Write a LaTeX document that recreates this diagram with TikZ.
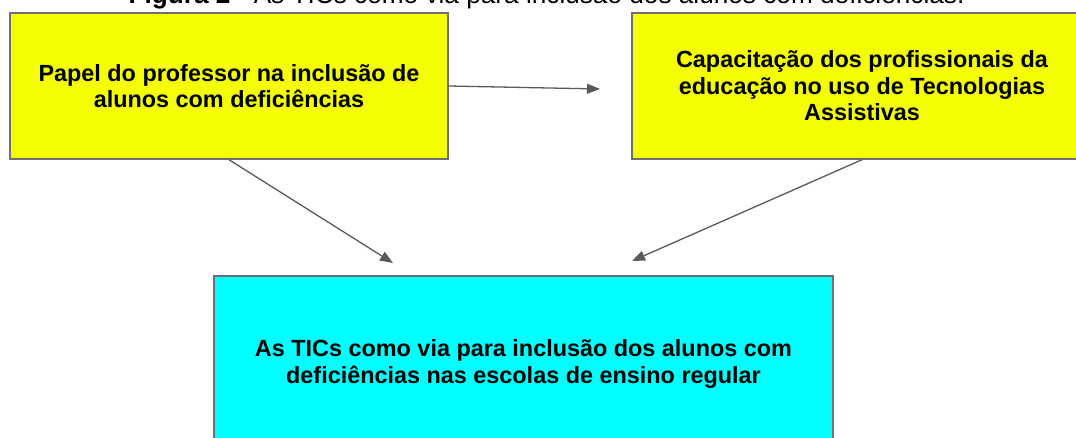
\documentclass[tikz,border=0pt]{standalone}
\usepackage{fontspec}
\setmainfont{Liberation Sans}
\usetikzlibrary{arrows.meta}
\definecolor{boxyellow}{HTML}{F4FF00}
\definecolor{boxcyan}{HTML}{00FFFF}
\definecolor{boxline}{HTML}{707070}
\definecolor{arrline}{HTML}{5A5A5A}
\tikzset{
  box/.style={draw=boxline, line width=1.4pt, inner sep=0pt, align=center,
    font=\bfseries\fontsize{23.4}{26.5}\selectfont},
  yellowbox/.style={box, fill=boxyellow},
  cyanbox/.style={box, fill=boxcyan},
  arr/.style={draw=arrline, line width=1.3pt,
    -{Triangle[length=13pt,width=10pt]}},
}
\begin{document}
\begin{tikzpicture}[x=1pt,y=-1pt]
\useasboundingbox (0,0) rectangle (1076,437);
\clip (0,0) rectangle (1076,437);
\node[anchor=base, font=\fontsize{26.2}{30}\selectfont] (title) at (546.5,3)
  {\textbf{Figura 2} - As TICs como via para inclusão dos alunos com deficiências.};
\node[yellowbox, minimum width=438pt, minimum height=146pt] (A) at (229,86)
  {Papel do professor na inclusão de\\alunos com deficiências};
\node[yellowbox, minimum width=460pt, minimum height=146pt] (B) at (862,86)
  {Capacitação dos profissionais da\\educação no uso de Tecnologias\\Assistivas};
\node[cyanbox, minimum width=619pt, minimum height=176pt] (C) at (523.5,364)
  {As TICs como via para inclusão dos alunos com\\deficiências nas escolas de ensino regular};
\coordinate (ab) at (600,89);
\coordinate (ac) at (393,263);
\coordinate (bc) at (632,261);
\draw[arr] (A.east) -- (ab);
\draw[arr] (A.south) -- (ac);
\draw[arr] (B.south) -- (bc);
\end{tikzpicture}
\end{document}
